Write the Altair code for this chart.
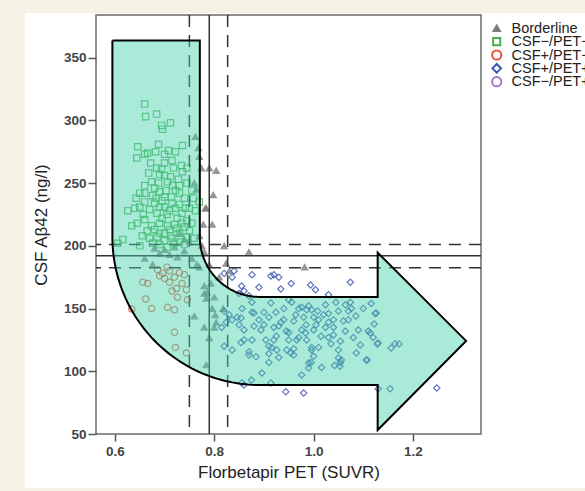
import altair as alt
import numpy as np
import pandas as pd

FONT = "Liberation Sans"

groups = ["Borderline", "CSF−/PET−", "CSF+/PET−", "CSF+/PET+", "CSF−/PET+"]
shapes = ["triangle-up", "square", "circle", "diamond", "circle"]
strokes = ["#7d7d7d", "#49ad4d", "#e5533c", "#3b55b2", "#a678c2"]
fills = ["#7d7d7d", "transparent", "transparent", "transparent", "transparent"]

borderline = [
    (0.762, 287), (0.768, 278), (0.770, 271), (0.774, 262), (0.790, 262), (0.804, 260),
    (0.798, 240.6), (0.782, 230), (0.778, 217), (0.796, 217), (0.784, 230),
    (0.750, 203), (0.760, 250), (0.764, 245), (0.770, 208), (0.775, 200), (0.676, 185),
    (0.726, 191), (0.710, 193), (0.690, 194), (0.700, 197), (0.720, 199), (0.740, 196),
    (0.755, 190), (0.765, 185), (0.770, 183), (0.780, 162), (0.786, 163), (0.800, 159),
    (0.784, 158), (0.796, 150), (0.804, 139), (0.780, 135), (0.800, 135), (0.790, 126.5),
    (0.784, 105), (0.760, 144), (0.820, 200), (0.870, 195), (0.982, 183), (0.824, 186),
    (0.830, 180), (0.810, 175), (0.790, 185), (0.780, 195), (0.730, 210), (0.740, 205),
    (0.660, 190), (0.680, 198), (0.802, 145), (0.818, 150), (0.793, 170), (0.780, 168),
]

csf_neg_pet_neg = [
    (0.660, 313), (0.662, 303), (0.684, 305), (0.694, 296), (0.712, 298), (0.696, 293),
    (0.646, 279), (0.688, 281), (0.736, 280), (0.660, 273), (0.644, 270), (0.666, 274),
    (0.682, 275), (0.700, 273), (0.708, 276), (0.722, 275), (0.715, 268), (0.672, 266),
    (0.684, 262), (0.694, 261), (0.734, 264), (0.736, 259), (0.700, 266), (0.718, 262),
    (0.745, 262), (0.690, 257), (0.674, 251), (0.700, 256), (0.706, 251), (0.716, 248),
    (0.730, 248), (0.745, 250), (0.688, 250), (0.660, 248), (0.650, 242), (0.660, 242),
    (0.690, 243), (0.700, 239), (0.714, 239), (0.730, 242), (0.676, 240), (0.722, 244),
    (0.740, 238), (0.755, 244), (0.680, 246), (0.640, 230), (0.650, 231), (0.670, 229),
    (0.680, 234), (0.690, 231), (0.700, 231), (0.710, 228), (0.730, 233), (0.715, 234),
    (0.695, 236), (0.722, 230), (0.660, 235), (0.705, 225), (0.735, 226), (0.750, 230),
    (0.685, 226), (0.626, 228), (0.634, 216), (0.645, 218), (0.660, 221), (0.674, 216),
    (0.680, 213), (0.690, 218), (0.700, 210), (0.710, 213), (0.730, 210), (0.720, 217),
    (0.740, 215), (0.750, 212), (0.665, 212), (0.695, 222), (0.725, 222), (0.745, 220),
    (0.706, 216), (0.616, 205), (0.655, 208), (0.670, 206), (0.685, 207), (0.700, 204),
    (0.715, 206), (0.730, 203), (0.745, 207), (0.690, 201), (0.705, 199), (0.720, 202),
    (0.740, 201), (0.760, 206), (0.676, 202), (0.755, 218), (0.762, 228), (0.606, 202),
    (0.650, 200), (0.690, 210), (0.712, 208), (0.725, 214), (0.735, 218), (0.683, 238),
    (0.703, 244), (0.668, 258), (0.712, 255), (0.728, 253), (0.657, 225), (0.643, 238),
    (0.770, 235), (0.742, 230), (0.758, 238),
]

csf_pos_pet_neg = [
    (0.634, 149.6), (0.656, 171), (0.666, 170), (0.686, 181), (0.696, 178), (0.710, 180),
    (0.720, 175), (0.730, 178.6), (0.740, 177), (0.700, 174), (0.710, 171), (0.724, 166),
    (0.744, 165), (0.746, 157), (0.726, 159), (0.662, 157.6), (0.674, 150), (0.706, 151),
    (0.720, 149), (0.720, 131), (0.722, 119), (0.744, 114.6), (0.690, 176), (0.705, 183),
    (0.735, 170), (0.715, 164),
]

csf_pos_pet_pos = [
    (0.820, 178), (0.836, 175), (0.840, 180), (0.855, 168), (0.860, 164), (0.876, 177),
    (0.890, 167), (0.850, 162), (0.914, 176), (0.920, 177), (0.934, 165.6), (0.930, 175),
    (0.994, 168.8), (1.004, 165), (1.030, 161), (1.074, 171), (0.870, 160), (0.955, 170),
    (0.836, 141), (0.854, 142.5), (0.850, 137), (0.856, 150), (0.876, 155), (0.880, 146.5),
    (0.890, 141), (0.894, 133), (0.900, 137), (0.910, 143), (0.914, 154.5), (0.920, 135),
    (0.934, 139), (0.924, 147), (0.950, 157), (0.964, 145), (0.970, 150), (0.980, 143),
    (0.986, 149), (1.000, 143), (1.010, 141), (1.008, 148), (1.024, 153), (1.030, 139),
    (1.040, 135), (1.050, 148), (0.976, 133), (0.984, 130.5), (0.950, 131), (0.950, 125),
    (0.966, 125), (0.986, 125), (1.010, 119), (0.996, 117), (1.030, 127), (1.040, 129),
    (1.050, 117), (1.056, 109), (1.053, 104), (0.990, 102.6), (0.976, 97), (0.995, 107),
    (0.960, 113), (0.954, 114.5), (0.926, 117), (0.916, 119), (0.910, 114), (0.930, 111),
    (0.910, 107), (0.896, 98.6), (0.876, 125), (0.870, 113), (0.884, 111.5), (0.836, 117),
    (0.854, 123), (0.860, 133), (0.846, 143), (0.876, 147), (0.880, 136), (0.860, 125),
    (0.870, 115.5), (0.904, 125), (0.910, 120), (0.920, 125), (0.930, 136), (0.940, 141),
    (0.956, 155), (0.976, 151), (0.990, 152), (0.996, 149), (1.030, 146), (1.040, 141),
    (1.064, 153), (1.074, 155), (1.070, 148), (1.076, 150), (1.100, 150), (1.116, 154),
    (1.124, 146), (1.070, 141), (1.090, 133), (1.110, 132), (1.120, 127), (1.080, 127),
    (1.064, 132), (1.054, 124), (1.024, 135), (1.000, 133), (0.970, 127), (0.946, 117),
    (0.960, 118), (0.996, 119), (1.000, 112), (1.016, 103), (0.990, 106.5), (1.050, 110.6),
    (1.054, 107), (1.086, 114.6), (1.106, 109), (1.042, 104.6), (1.130, 122.5), (1.156, 118.6),
    (1.164, 122), (1.172, 121.8), (1.128, 121.8), (1.108, 109), (1.126, 146.5), (1.122, 137.7),
    (1.114, 130.5), (1.094, 121), (1.015, 128), (1.020, 145), (0.940, 150), (0.900, 147),
    (0.820, 120), (0.815, 135), (0.820, 148), (0.960, 140), (1.060, 140), (1.045, 155),
    (1.085, 144), (0.925, 128), (0.945, 132), (1.035, 122), (0.985, 137), (1.005, 137),
    (0.824, 139), (0.830, 145), (0.856, 90.7), (0.860, 89), (0.914, 90.6), (0.944, 83.6),
    (0.980, 82.7), (1.130, 86), (1.154, 86), (1.248, 86.7), (0.875, 93),
]

csf_neg_pet_pos = []

# cut-offs
x_dashed = [0.75, 0.827]
x_solid = [0.79]
y_dashed = [182.5, 201]
y_solid = [192]

# arrow annotation (data units)
arr_x_out, arr_x_in, arr_top = 0.595, 0.771, 363.6
arr_cx, arr_cy = 0.891, 207.1
arr_rx_in, arr_ry_in = 0.12, 47.8
arr_rx_out, arr_ry_out = 0.296, 118.0
arr_head_x, arr_head_top, arr_head_bot = 1.129, 194.6, 53.2
arr_tip_x, arr_tip_y = 1.307, 124.2

rows = []
for name, pts in zip(groups, [borderline, csf_neg_pet_neg, csf_pos_pet_neg, csf_pos_pet_pos, csf_neg_pet_pos]):
    for px, py in pts:
        rows.append({"x": px, "y": py, "group": name})
df = pd.DataFrame(rows)

ax_, ay_ = [arr_x_out, arr_x_in, arr_x_in], [arr_top, arr_top, arr_cy]
for t in np.linspace(np.pi, 1.5 * np.pi, 40):
    ax_.append(arr_cx + arr_rx_in * np.cos(t)); ay_.append(arr_cy + arr_ry_in * np.sin(t))
ax_ += [arr_head_x, arr_head_x, arr_tip_x, arr_head_x, arr_head_x, arr_cx]
ay_ += [arr_cy - arr_ry_in, arr_head_top, arr_tip_y, arr_head_bot, arr_cy - arr_ry_out, arr_cy - arr_ry_out]
for t in np.linspace(1.5 * np.pi, np.pi, 60):
    ax_.append(arr_cx + arr_rx_out * np.cos(t)); ay_.append(arr_cy + arr_ry_out * np.sin(t))
ax_.append(arr_x_out); ay_.append(arr_top)
arrow_df = pd.DataFrame({"x": ax_, "y": ay_, "i": range(len(ax_))})

W, H = 385, 419
X = alt.X("x:Q", scale=alt.Scale(domain=[0.562, 1.337], nice=False, zero=False),
          axis=alt.Axis(values=[0.6, 0.8, 1.0, 1.2], format=".1f", title="Florbetapir PET (SUVR)",
                        grid=False, domain=False, tickSize=7, tickColor="#555", tickWidth=1.5,
                        labelFont=FONT, labelFontSize=13.5, labelFontWeight="bold", labelColor="#444",
                        labelPadding=3, titleFont=FONT, titleFontSize=17, titleFontWeight="normal",
                        titleColor="#222", titlePadding=7))
Y = alt.Y("y:Q", scale=alt.Scale(domain=[50, 384], nice=False, zero=False),
          axis=alt.Axis(values=[50, 100, 150, 200, 250, 300, 350], title="CSF Aβ42 (ng/l)",
                        grid=False, domain=False, tickSize=8, tickColor="#555", tickWidth=1.5,
                        labelFont=FONT, labelFontSize=13.5, labelFontWeight="bold", labelColor="#444",
                        labelPadding=2, titleFont=FONT, titleFontSize=17, titleFontWeight="normal",
                        titleColor="#222", titlePadding=13))

one = pd.DataFrame({"k": [0]})
beige = "#f6f3e6"
strip_left = alt.Chart(one).mark_rect(color=beige).encode(
    x=alt.value(-96), x2=alt.value(-71), y=alt.value(-15), y2=alt.value(476))
strip_top = alt.Chart(one).mark_rect(color=beige).encode(
    x=alt.value(-96), x2=alt.value(489), y=alt.value(-15), y2=alt.value(-2))
strip_bot = alt.Chart(one).mark_rect(color=beige).encode(
    x=alt.value(-96), x2=alt.value(489), y=alt.value(473), y2=alt.value(476))

points = alt.Chart(df).mark_point(size=40, strokeWidth=1.2, opacity=0.8).encode(
    x=X, y=Y,
    shape=alt.Shape("group:N", scale=alt.Scale(domain=groups, range=shapes), legend=None),
    color=alt.Color("group:N", scale=alt.Scale(domain=groups, range=strokes), legend=None),
    fill=alt.Fill("group:N", scale=alt.Scale(domain=groups, range=fills), legend=None),
)

vdash = alt.Chart(pd.DataFrame({"x": x_dashed})).mark_rule(
    color="#333", strokeWidth=1.5, strokeDash=[12, 8]).encode(x=X)
vsolid = alt.Chart(pd.DataFrame({"x": x_solid})).mark_rule(
    color="#333", strokeWidth=1.5).encode(x=X)
hdash = alt.Chart(pd.DataFrame({"y": y_dashed})).mark_rule(
    color="#333", strokeWidth=1.5, strokeDash=[12, 8]).encode(y=Y)
hsolid = alt.Chart(pd.DataFrame({"y": y_solid})).mark_rule(
    color="#333", strokeWidth=1.5).encode(y=Y)

arrow = alt.Chart(arrow_df).mark_line(
    fill="#40d0a8", fillOpacity=0.45, stroke="black", strokeWidth=2, strokeOpacity=1,
    strokeJoin="miter", interpolate="linear").encode(x=X, y=Y, order="i:Q")

# legend (drawn as marks so that rows can be as tight as in the original)
leg_sizes = [40, 50, 85, 75, 85]
leg_layers = []
for k, (g, shp, st, fl, sz) in enumerate(zip(groups, shapes, strokes, fills, leg_sizes)):
    yy = 13.3 + 13.35 * k
    leg_layers.append(alt.Chart(one).mark_point(
        shape=shp, size=sz, stroke=st, fill=fl, strokeWidth=2, opacity=1, filled=False
    ).encode(x=alt.value(400.7), y=alt.value(yy)))
    leg_layers.append(alt.Chart(one).mark_text(
        align="left", baseline="middle", font=FONT, fontSize=14.5, color="#222"
    ).encode(x=alt.value(415.5), y=alt.value(yy + 0.5), text=alt.value(g)))

chart = alt.layer(strip_left, strip_top, strip_bot, points, vdash, vsolid, hdash, hsolid, arrow,
                  *leg_layers).properties(
    width=W, height=H,
    autosize=alt.AutoSizeParams(type="none"),
    padding={"left": 96, "top": 15, "right": 104, "bottom": 57},
    background="white",
).configure_view(stroke="#6b6b6b", strokeWidth=1.5, fill="white")

chart.save("out.html", embed_options={"renderer": "svg", "actions": False})
